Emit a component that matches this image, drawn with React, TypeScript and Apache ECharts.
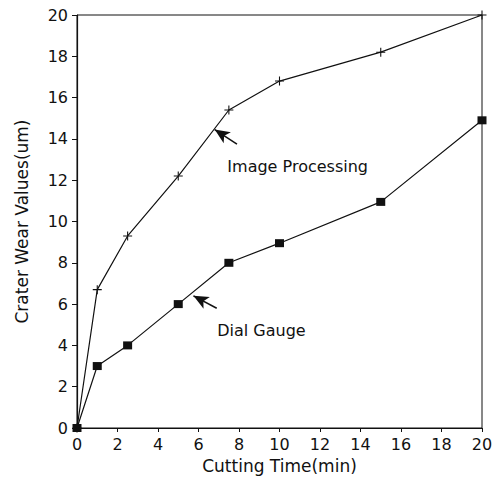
import React, { useEffect, useRef } from "react";
import * as echarts from "echarts";

const cuttingTime = [0, 1, 2.5, 5, 7.5, 10, 15, 20];
const imageProcessing = [0, 6.7, 9.3, 12.2, 15.4, 16.8, 18.2, 20];
const dialGauge = [0, 3, 4, 6, 8, 8.95, 10.95, 14.9];
const xTicks = [0, 2, 4, 6, 8, 10, 12, 14, 16, 18, 20];
const yTicks = [0, 2, 4, 6, 8, 10, 12, 14, 16, 18, 20];
const imageArrow = [[7.9, 13.75], [6.8, 14.45]];
const dialArrow = [[6.9, 5.8], [5.75, 6.4]];
const imageLabel = { text: "Image Processing", at: [7.4, 12.65] };
const dialLabel = { text: "Dial Gauge", at: [6.9, 4.7] };

const FONT = "DejaVu Sans";
const INK = "#111";

const plusPath = "path://M4.4,0H5.6V4.4H10V5.6H5.6V10H4.4V5.6H0V4.4H4.4Z";

export default function App() {
  const ref = useRef<HTMLDivElement>(null);
  useEffect(() => {
    if (!ref.current) return;
    const chart = echarts.init(ref.current, null, { renderer: "svg" });
    const arrowLine = (pts: number[][]) => ({
      silent: true,
      symbol: ["none", "arrow"],
      symbolSize: [10, 15],
      label: { show: false },
      lineStyle: { color: INK, width: 1.5, type: "solid" },
      data: [[{ coord: pts[0] }, { coord: pts[1] }]],
    });
    const textPoint = (l: { text: string; at: number[] }) => ({
      silent: true,
      symbol: "circle",
      symbolSize: 1,
      itemStyle: { color: "rgba(0,0,0,0)" },
      label: {
        show: true,
        formatter: l.text,
        position: "right",
        distance: 0,
        fontFamily: FONT,
        fontSize: 16,
        color: INK,
      },
      data: [{ coord: l.at }],
    });
    chart.setOption({
      animation: false,
      backgroundColor: "#fff",
      grid: {
        left: 77,
        right: 17,
        top: 15,
        bottom: 49,
        show: true,
        borderColor: INK,
        borderWidth: 1,
      },
      xAxis: {
        type: "value",
        min: 0,
        max: 20,
        interval: 2,
        name: "Cutting Time(min)",
        nameLocation: "middle",
        nameGap: 29,
        nameTextStyle: { fontFamily: FONT, fontSize: 17, color: INK },
        axisLine: { show: true, lineStyle: { color: INK, width: 1.2 } },
        axisTick: { show: true, length: 4, lineStyle: { color: INK } },
        axisLabel: {
          fontFamily: FONT,
          fontSize: 16,
          color: INK,
          margin: 8,
          formatter: (v: number) => (xTicks.includes(v) ? String(v) : ""),
        },
        splitLine: { show: false },
      },
      yAxis: {
        type: "value",
        min: 0,
        max: 20,
        interval: 2,
        name: "Crater Wear Values(um)",
        nameLocation: "middle",
        nameGap: 47,
        nameTextStyle: { fontFamily: FONT, fontSize: 17, color: INK },
        axisLine: { show: true, lineStyle: { color: INK, width: 1.2 } },
        axisTick: { show: true, length: 5, lineStyle: { color: INK } },
        axisLabel: {
          fontFamily: FONT,
          fontSize: 16,
          color: INK,
          margin: 9,
          formatter: (v: number) => (yTicks.includes(v) ? String(v) : ""),
        },
        splitLine: { show: false },
      },
      series: [
        {
          name: "Image Processing",
          type: "line",
          data: cuttingTime.map((x, i) => [x, imageProcessing[i]]),
          symbol: plusPath,
          symbolSize: 9,
          showAllSymbol: true,
          itemStyle: { color: INK },
          lineStyle: { color: INK, width: 1.2 },
          markLine: arrowLine(imageArrow),
          markPoint: textPoint(imageLabel),
          z: 3,
        },
        {
          name: "Dial Gauge",
          type: "line",
          data: cuttingTime.map((x, i) => [x, dialGauge[i]]),
          symbol: "rect",
          symbolSize: [9, 8],
          showAllSymbol: true,
          itemStyle: { color: INK },
          lineStyle: { color: INK, width: 1.2 },
          markLine: arrowLine(dialArrow),
          markPoint: textPoint(dialLabel),
          z: 3,
        },
      ],
    });
    return () => chart.dispose();
  }, []);
  return (
    <div
      ref={ref}
      style={{ position: "fixed", left: 0, top: 0, width: 499, height: 479 }}
    />
  );
}
